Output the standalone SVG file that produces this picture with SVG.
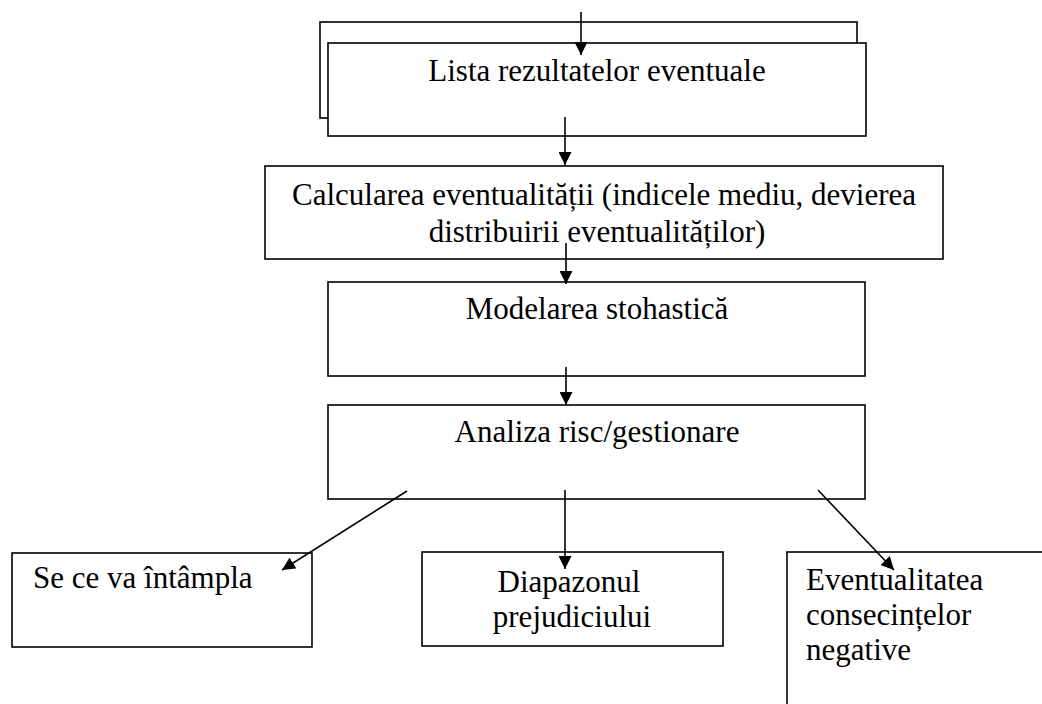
<svg xmlns="http://www.w3.org/2000/svg" width="1042" height="704" viewBox="0 0 1042 704">
<style>
.box{fill:#fff;stroke:#000;stroke-width:1.6}
.t{font-family:"Liberation Serif","Times New Roman",serif;font-size:31px;fill:#000}
.c{text-anchor:middle}
.ln{stroke:#000;stroke-width:1.6;fill:none;marker-end:url(#ah)}
</style>
<defs>
<marker id="ah" markerUnits="userSpaceOnUse" markerWidth="14" markerHeight="13" refX="13" refY="6.5" orient="auto">
<path d="M0,0 L13,6.5 L0,13 z" fill="#000"/>
</marker>
</defs>
<rect width="1042" height="704" fill="#fff"/>
<g id="lista">
<rect class="box" x="320" y="22" width="537" height="96"/>
<rect class="box" x="328" y="43" width="538" height="93"/>
<text class="t c" x="597" y="81">Lista rezultatelor eventuale</text>
</g>
<g id="calcularea">
<rect class="box" x="265" y="166" width="678" height="93"/>
<text class="t c" x="604" y="205">Calcularea eventualității (indicele mediu, devierea</text>
<text class="t c" x="597" y="242">distribuirii eventualităților)</text>
</g>
<g id="modelarea">
<rect class="box" x="328" y="282" width="537" height="94"/>
<text class="t c" x="597" y="319">Modelarea stohastică</text>
</g>
<g id="analiza">
<rect class="box" x="328" y="405" width="537" height="94"/>
<text class="t c" x="597" y="442">Analiza risc/gestionare</text>
</g>
<g id="se-ce">
<rect class="box" x="12" y="553" width="300" height="94"/>
<text class="t" x="33" y="588">Se ce va întâmpla</text>
</g>
<g id="diapazonul">
<rect class="box" x="422" y="552" width="301" height="94"/>
<text class="t c" x="569" y="592">Diapazonul</text>
<text class="t c" x="572" y="627">prejudiciului</text>
</g>
<g id="eventualitatea">
<rect class="box" x="787" y="552" width="270" height="170"/>
<text class="t" x="806" y="590">Eventualitatea</text>
<text class="t" x="806" y="625">consecințelor</text>
<text class="t" x="806" y="660">negative</text>
</g>
<g id="connectors">
<line class="ln" x1="581" y1="12" x2="581" y2="55"/>
<line class="ln" x1="565" y1="117" x2="565" y2="165"/>
<line class="ln" x1="566" y1="243" x2="566" y2="284"/>
<line class="ln" x1="566" y1="367" x2="566" y2="405"/>
<line class="ln" x1="407" y1="491" x2="282" y2="570"/>
<line class="ln" x1="565" y1="490" x2="565" y2="569"/>
<line class="ln" x1="818" y1="490" x2="894" y2="570"/>
</g>
</svg>
